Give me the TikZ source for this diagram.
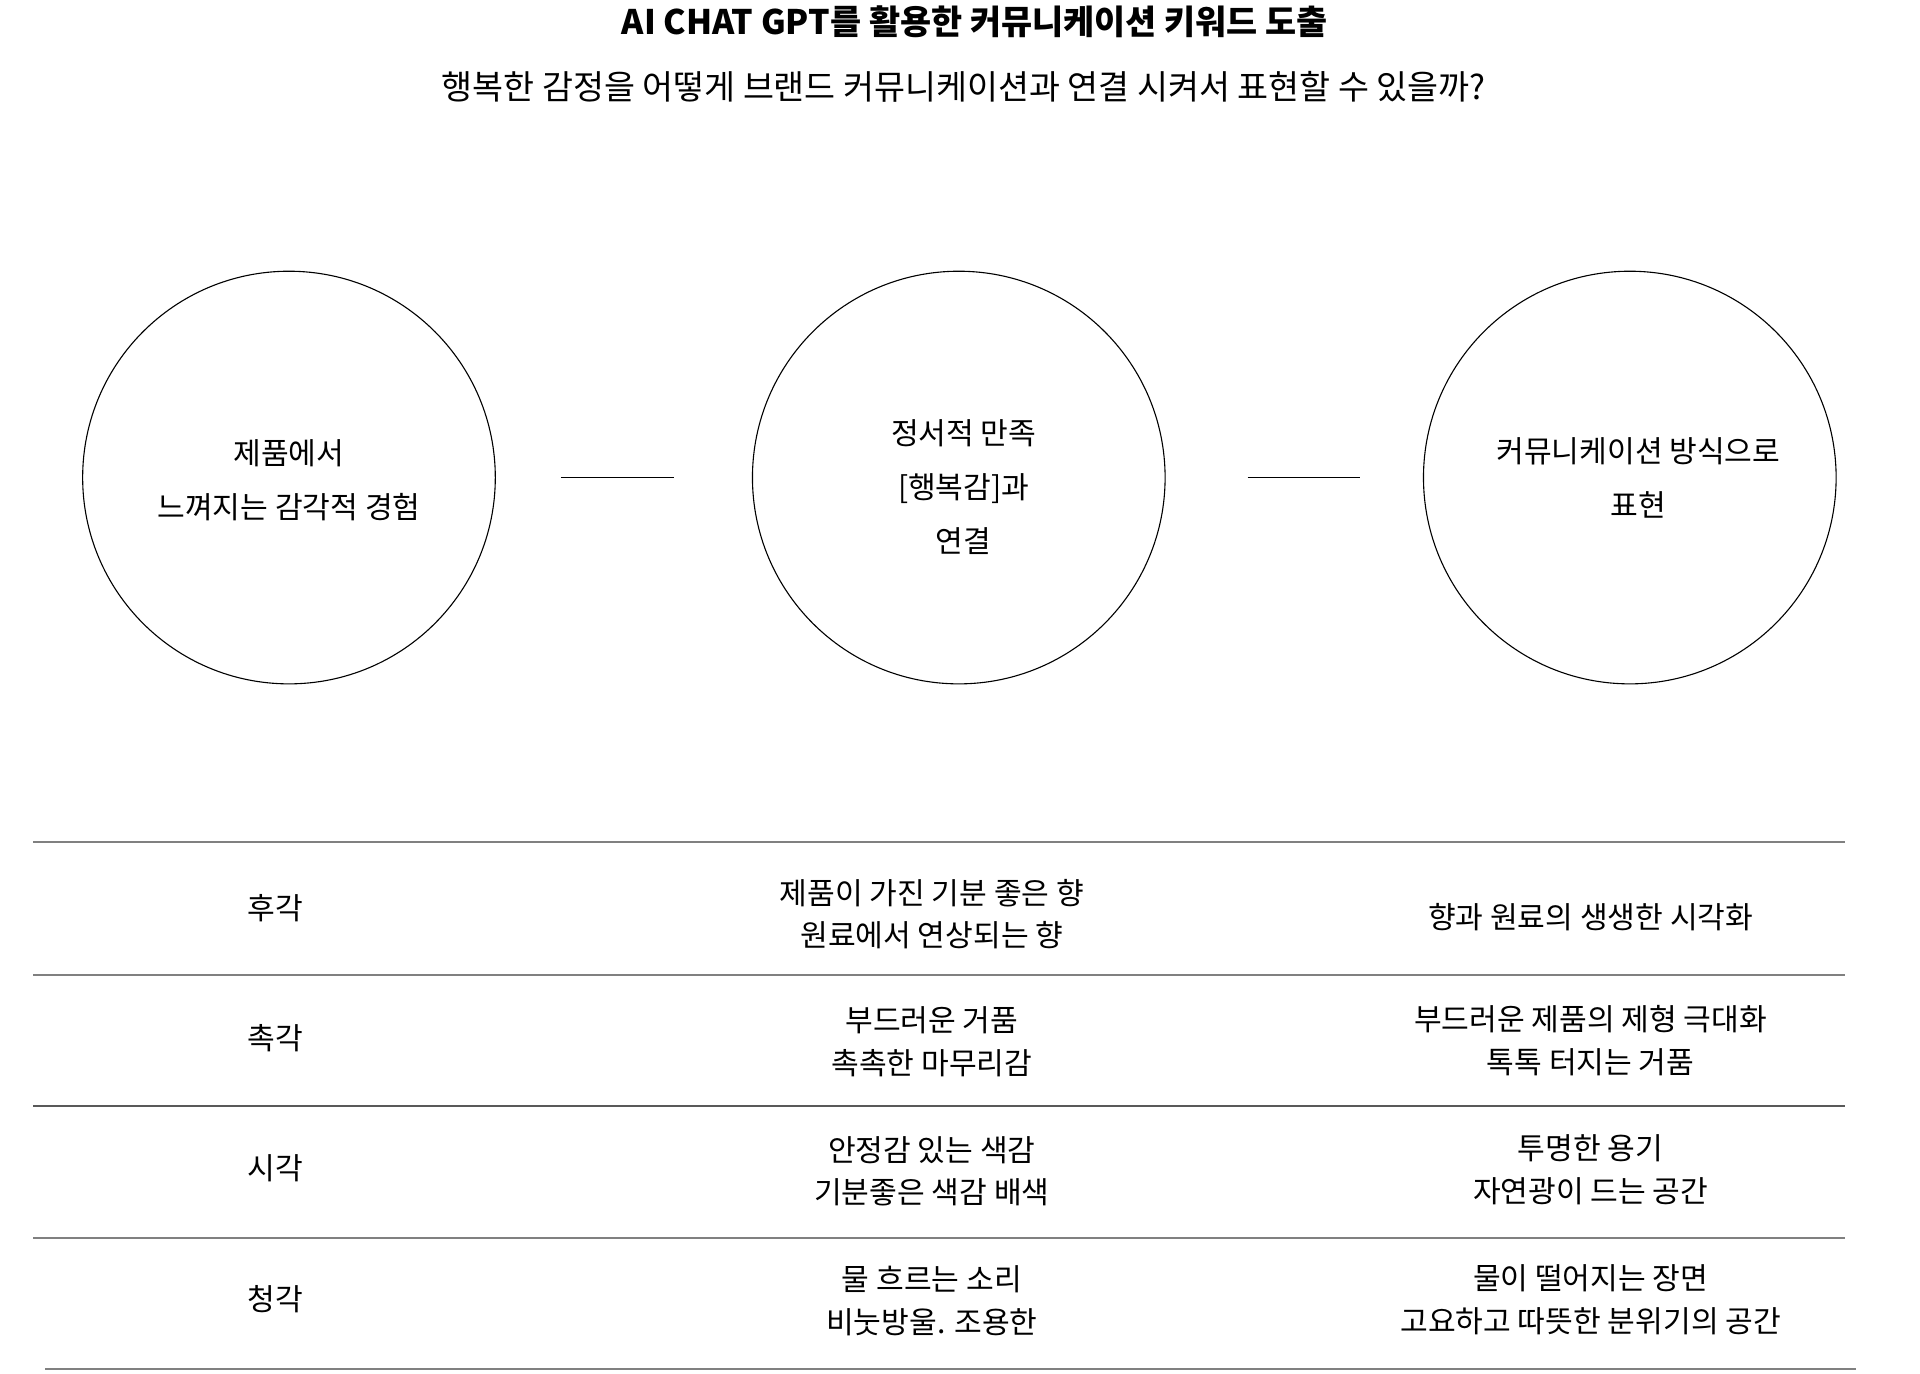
\documentclass[tikz,border=0pt]{standalone}
\usepackage{fontspec}
\setmainfont{Noto Sans CJK KR}
\begin{document}
\begin{tikzpicture}[x=0.5pt,y=-0.5pt,
  body/.style={font=\fontsize{12.3pt}{22pt}\selectfont, align=center, inner sep=0pt},
  cell/.style={font=\fontsize{12.3pt}{17.5pt}\selectfont, align=center, inner sep=0pt},
  bubble/.style={draw=black, line width=0.45pt, circle, minimum size=168.5pt, inner sep=0pt},
  link/.style={draw=black, line width=0.6pt},
  rule/.style={draw=black!50, line width=0.8pt}]
\useasboundingbox (0,0) rectangle (1568,1122);
\node[font=\bfseries\fontsize{13.8pt}{16pt}\selectfont, inner sep=0pt] (title) at (796,18) {AI CHAT GPT를 활용한 커뮤니케이션 키워드 도출};
\node[font=\fontsize{13.75pt}{16pt}\selectfont, inner sep=0pt] (sub) at (787,71) {행복한 감정을 어떻게 브랜드 커뮤니케이션과 연결 시켜서 표현할 수 있을까?};
\node[bubble] (c1) at (236,390) {};
\node[bubble] (c2) at (783,390) {};
\node[bubble] (c3) at (1331,390) {};
\node[body] (t1) at (236,392) {제품에서\\느껴지는 감각적 경험};
\node[body] (t2) at (787,398) {정서적 만족\\{[}행복감{]}과\\연결};
\node[body] (t3) at (1338,390) {커뮤니케이션 방식으로\\표현};
\draw[link, shorten <=26.5pt, shorten >=32pt] (c1) -- (c2);
\draw[link, shorten <=33.5pt, shorten >=25.5pt] (c2) -- (c3);
% table rules
\coordinate (r0a) at (27,688);  \coordinate (r0b) at (1507,688);
\coordinate (r1a) at (27,796);  \coordinate (r1b) at (1507,796);
\coordinate (r2a) at (27,903);  \coordinate (r2b) at (1507,903);
\coordinate (r3a) at (27,1011); \coordinate (r3b) at (1507,1011);
\coordinate (r4a) at (37,1118); \coordinate (r4b) at (1516,1118);
\draw[rule] (r0a) -- (r0b);
\draw[rule] (r1a) -- (r1b);
\draw[rule, draw=black!65] (r2a) -- (r2b);
\draw[rule] (r3a) -- (r3b);
\draw[rule] (r4a) -- (r4b);
% row 1
\node[cell] (a1) at (225,742) {후각};
\node[cell] (b1) at (761,746.5) {제품이 가진 기분 좋은 향\\원료에서 연상되는 향};
\node[cell] (d1) at (1299,749) {향과 원료의 생생한 시각화};
% row 2
\node[cell] (a2) at (225,848) {촉각};
\node[cell] (b2) at (761,850.5) {부드러운 거품\\촉촉한 마무리감};
\node[cell] (d2) at (1299,850) {부드러운 제품의 제형 극대화\\톡톡 터지는 거품};
% row 3
\node[cell] (a3) at (225,954) {시각};
\node[cell] (b3) at (761,956.5) {안정감 있는 색감\\기분좋은 색감 배색};
\node[cell] (d3) at (1299,955.5) {투명한 용기\\자연광이 드는 공간};
% row 4
\node[cell] (a4) at (225,1061) {청각};
\node[cell] (b4) at (761,1062.5) {물 흐르는 소리\\비눗방울. 조용한};
\node[cell] (d4) at (1299,1061.5) {물이 떨어지는 장면\\고요하고 따뜻한 분위기의 공간};
\end{tikzpicture}
\end{document}
